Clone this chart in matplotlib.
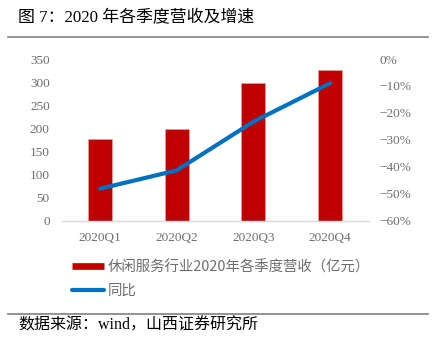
import matplotlib
matplotlib.use("Agg")
import matplotlib.pyplot as plt
from matplotlib.lines import Line2D
from matplotlib.ticker import FuncFormatter

categories = ["2020Q1", "2020Q2", "2020Q3", "2020Q4"]
revenue = [176, 198, 299, 327]          # 亿元
yoy = [-48.2, -41.4, -23.3, -9.0]        # %
left_ticks = [0, 50, 100, 150, 200, 250, 300, 350]
right_ticks = [0, -10, -20, -30, -40, -50, -60]

title = "图 7：2020 年各季度营收及增速"
source = "数据来源：wind，山西证券研究所"
bar_label = "休闲服务行业2020年各季度营收（亿元）"
line_label = "同比"

W, H = 432, 344
fig = plt.figure(figsize=(W / 100, H / 100), dpi=100)

serif_cjk = ["Liberation Serif", "Noto Sans CJK SC"]
cjk = ["Noto Sans CJK SC", "DejaVu Sans"]
tick_color = "#6E6E6E"

ax_l, ax_r, ax_t, ax_b = 61.5, 368.5, 59, 220.5
ax = fig.add_axes([ax_l / W, 1 - ax_b / H, (ax_r - ax_l) / W, (ax_b - ax_t) / H])
x = list(range(len(categories)))
ax.bar(x, revenue, width=0.315, color="#C00000", edgecolor="#E8A8A8", linewidth=0.4, zorder=2)
ax.set_xlim(-0.5, len(categories) - 0.5)
ax.set_ylim(0, 350)
ax.set_yticks(left_ticks)
ax.set_xticks(x)
ax.set_xticklabels(categories)
for s in ["top", "right", "left"]:
    ax.spines[s].set_visible(False)
ax.spines["bottom"].set_color("#D9D9D9")
ax.spines["bottom"].set_linewidth(1.0)
ax.tick_params(axis="both", length=0, colors=tick_color, labelsize=9.5)
ax.tick_params(axis="y", pad=8.5)
ax.tick_params(axis="x", pad=8)
for lab in ax.get_xticklabels() + ax.get_yticklabels():
    lab.set_family("Liberation Serif")

ax2 = ax.twinx()
ax2.plot(x, yoy, color="#0070C0", linewidth=3.0, solid_capstyle="round", zorder=3)
ax2.set_ylim(-60, 0)
ax2.set_yticks(right_ticks)
ax2.yaxis.set_major_formatter(FuncFormatter(lambda v, p: ("%d%%" % v).replace("-", "\u2212")))
for s in ["top", "right", "left", "bottom"]:
    ax2.spines[s].set_visible(False)
ax2.tick_params(axis="y", length=0, colors=tick_color, labelsize=9.5, pad=8)
for lab in ax2.get_yticklabels():
    lab.set_family("Liberation Serif")

handles = [
    Line2D([0], [0], color="#C00000", linewidth=4.8, solid_capstyle="butt"),
    Line2D([0], [0], color="#0070C0", linewidth=3.0, solid_capstyle="round"),
]
leg = fig.legend(handles, [bar_label, line_label], loc="upper left",
                 bbox_to_anchor=(72 / W, 1 - 260 / H), frameon=False,
                 handlelength=2.2, handletextpad=0.3, labelspacing=0.68,
                 borderpad=0, borderaxespad=0, prop={"family": cjk, "size": 10.4})
for t in leg.get_texts():
    t.set_color(tick_color)

fig.text(18 / W, 1 - 18 / H, title, family=serif_cjk, fontsize=12.2, color="black", va="center", ha="left")
fig.add_artist(Line2D([8 / W, 428 / W], [1 - 36.7 / H, 1 - 36.7 / H], color="#808080", linewidth=1.2))
fig.add_artist(Line2D([8 / W, 428 / W], [1 - 314.3 / H, 1 - 314.3 / H], color="#808080", linewidth=1.2))
fig.text(18 / W, 1 - 326 / H, source, family=serif_cjk, fontsize=11.5, color="black", va="center", ha="left")

fig.savefig("out.png", dpi=100)
